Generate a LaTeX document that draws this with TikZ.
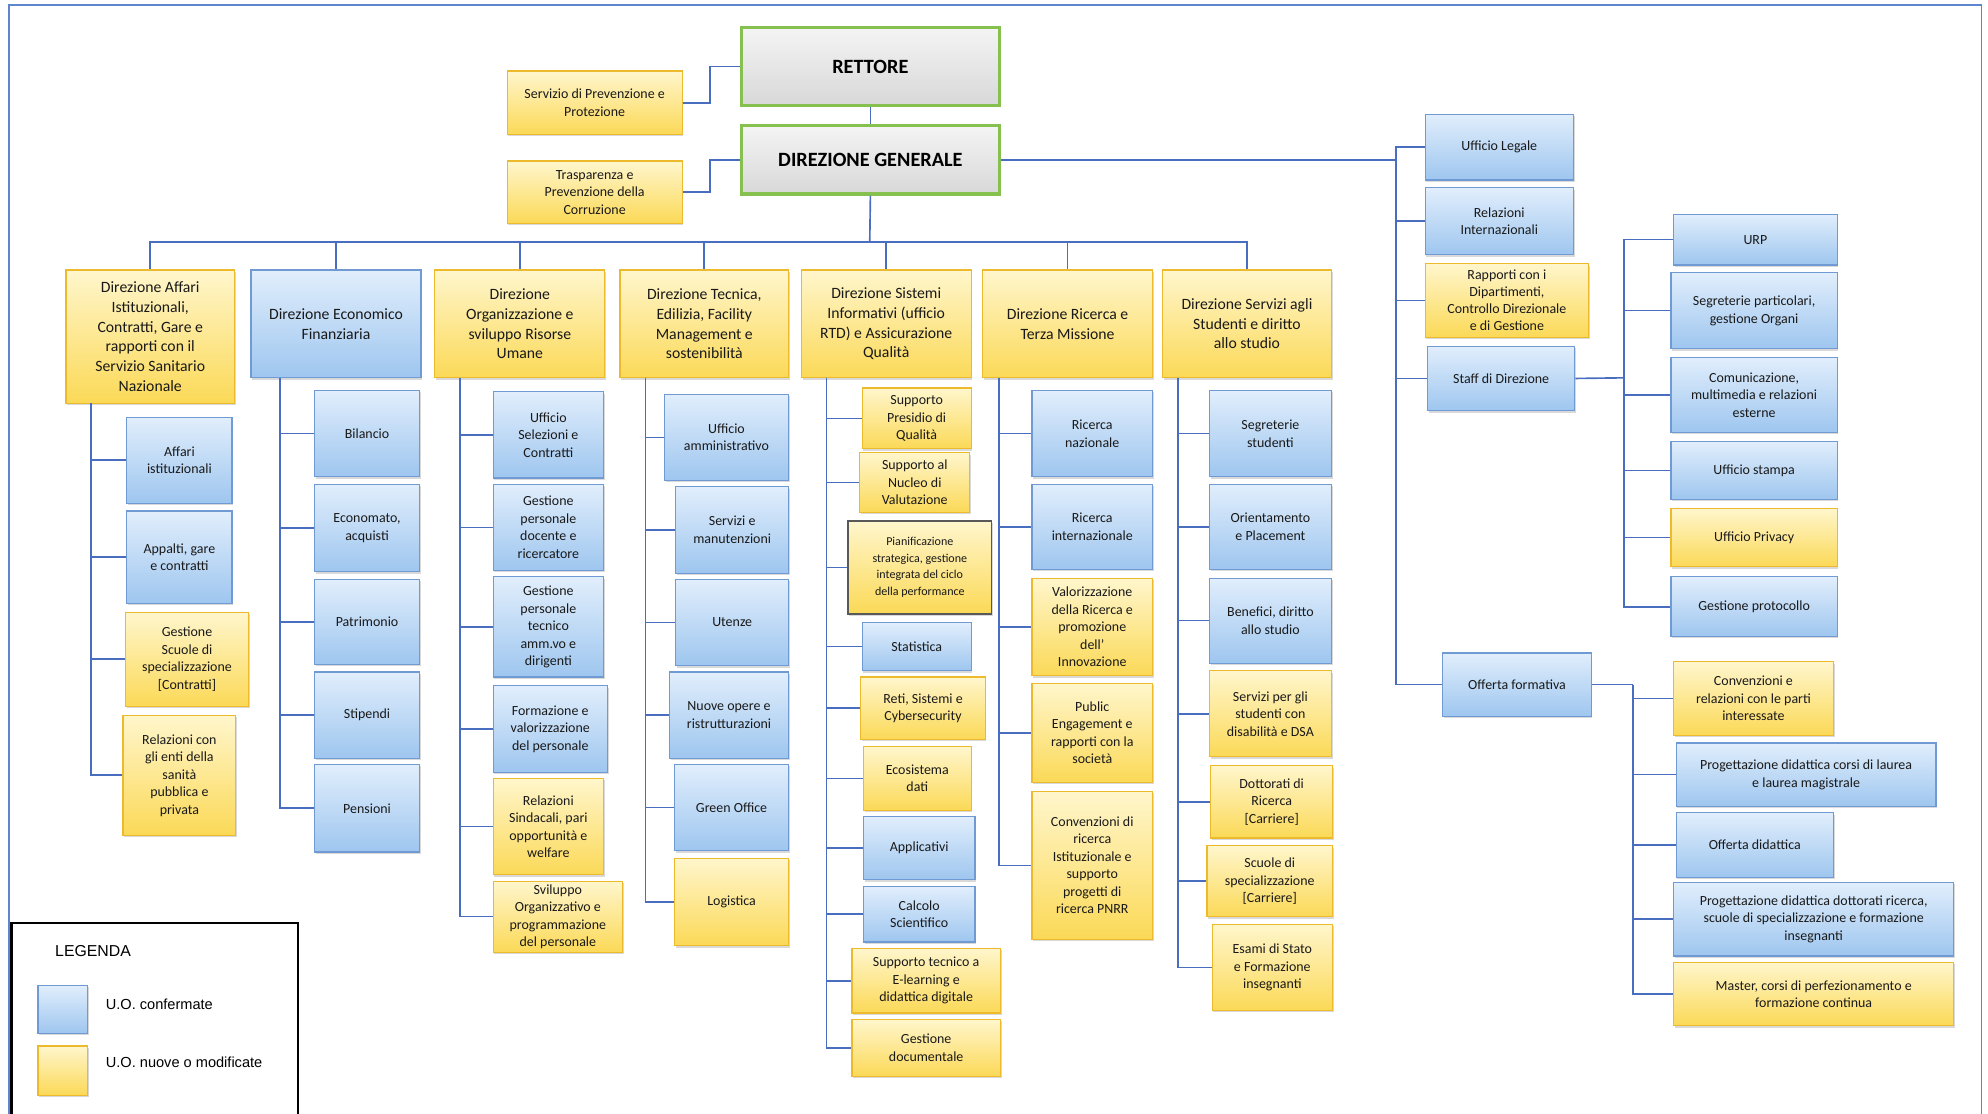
\documentclass[tikz,border=0pt]{standalone}
\usepackage{fontspec}
\setmainfont{Carlito}
\newfontfamily\legfont{Liberation Sans}
\usetikzlibrary{shadows}

\definecolor{blutop}{HTML}{E1EEFC}
\definecolor{blubot}{HTML}{9EC6EF}
\definecolor{bordoblu}{HTML}{6F9AD3}
\definecolor{giallotop}{HTML}{FFF6CC}
\definecolor{giallobot}{HTML}{FBD957}
\definecolor{bordogiallo}{HTML}{EDBA2E}
\definecolor{verde}{HTML}{86C04F}
\definecolor{grigiotop}{HTML}{F4F4F4}
\definecolor{grigiobot}{HTML}{D8D8D8}
\definecolor{linea}{HTML}{4A6EBF}
\definecolor{cornice}{HTML}{5E86CF}

\tikzset{
  uo/.style={rectangle, line width=0.9pt, align=center, inner sep=1pt, text=black!90,
    font=\fontsize{11}{13.8}\selectfont,
    drop shadow={opacity=0.3, shadow xshift=1pt, shadow yshift=-1.5pt}},
  blu/.style={uo, draw=bordoblu, top color=blutop, bottom color=blubot},
  gialla/.style={uo, draw=bordogiallo, top color=giallotop, bottom color=giallobot},
  dir/.style={font=\fontsize{12.4}{15.5}\selectfont},
  vertice/.style={rectangle, draw=verde, line width=2.5pt, top color=grigiotop, bottom color=grigiobot,
    font=\fontsize{16}{18}\bfseries\selectfont},
  conn/.style={draw=linea, line width=1.3pt},
}

% box from its corners: style, name, x1, y1, x2, y2, text
\newcommand{\ubox}[7]{%
  \pgfmathsetmacro\uow{#5-#3}%
  \pgfmathsetmacro\uoh{#6-#4}%
  \node[#1, minimum width=\uow pt, minimum height=\uoh pt] (#2) at ({(#3+#5)/2},{(#4+#6)/2}) {#7};}

\begin{document}
\begin{tikzpicture}[x=1pt, y=-1pt]
    \useasboundingbox (0,0) rectangle (1568,878);
    \draw[cornice, line width=1pt] (7,4) rectangle (1563,900);

    % vertici %
    \ubox{vertice}{rett}{585}{22}{788}{83}{RETTORE}
    \ubox{vertice}{dg}{585}{99}{788}{153}{DIREZIONE GENERALE}
    \ubox{gialla}{spp}{400}{56}{538}{106}{Servizio di Prevenzione e\\Protezione}
    \ubox{gialla}{tpc}{400}{127}{538}{176}{Trasparenza e\\Prevenzione della\\Corruzione}

    % direzioni %
    \ubox{gialla,dir}{dai}{52}{213}{185}{318}{Direzione Affari\\Istituzionali,\\Contratti, Gare e\\rapporti con il\\Servizio Sanitario\\Nazionale}
    \ubox{blu,dir}{def}{198}{213}{332}{298}{Direzione Economico\\Finanziaria}
    \ubox{gialla,dir}{dor}{343}{213}{477}{298}{Direzione\\Organizzazione e\\sviluppo Risorse\\Umane}
    \ubox{gialla,dir}{dte}{489}{213}{622}{298}{Direzione Tecnica,\\Edilizia, Facility\\Management e\\sostenibilità}
    \ubox{gialla,dir}{dsi}{632}{213}{766}{298}{Direzione Sistemi\\Informativi (ufficio\\RTD) e Assicurazione\\Qualità}
    \ubox{gialla,dir}{dri}{775}{213}{909}{298}{Direzione Ricerca e\\Terza Missione}
    \ubox{gialla,dir}{dss}{917}{213}{1050}{298}{Direzione Servizi agli\\Studenti e diritto\\allo studio}

    % affari istituzionali %
    \ubox{blu}{ais}{100}{329}{183}{397}{Affari\\istituzionali}
    \ubox{blu}{agc}{100}{403}{183}{476}{Appalti, gare\\e contratti}
    \ubox{gialla}{gss}{99}{483}{196}{557}{Gestione\\Scuole di\\specializzazione\\{[Contratti]}}
    \ubox{gialla}{res}{97}{564}{186}{659}{Relazioni con\\gli enti della\\sanità\\pubblica e\\privata}

    % economico finanziaria %
    \ubox{blu}{bil}{248}{308}{331}{376}{Bilancio}
    \ubox{blu}{eco}{248}{382}{331}{451}{Economato,\\acquisti}
    \ubox{blu}{pat}{248}{457}{331}{524}{Patrimonio}
    \ubox{blu}{sti}{248}{530}{331}{598}{Stipendi}
    \ubox{blu}{pen}{248}{603}{331}{672}{Pensioni}

    % risorse umane %
    \ubox{blu}{usc}{389}{309}{476}{377}{Ufficio\\Selezioni e\\Contratti}
    \ubox{blu}{gpd}{389}{382}{476}{450}{Gestione\\personale\\docente e\\ricercatore}
    \ubox{blu}{gpt}{389}{455}{476}{534}{Gestione\\personale\\tecnico\\amm.vo e\\dirigenti}
    \ubox{blu}{fvp}{389}{541}{479}{609}{Formazione e\\valorizzazione\\del personale}
    \ubox{gialla}{rsp}{389}{614}{476}{690}{Relazioni\\Sindacali, pari\\opportunità e\\welfare}
    \ubox{gialla}{sop}{389}{695}{491}{751}{Sviluppo\\Organizzativo e\\programmazione\\del personale}

    % tecnica %
    \ubox{blu}{uam}{524}{311}{622}{379}{Ufficio\\amministrativo}
    \ubox{blu}{sma}{533}{384}{622}{452}{Servizi e\\manutenzioni}
    \ubox{blu}{ute}{533}{457}{622}{525}{Utenze}
    \ubox{blu}{nor}{528}{530}{622}{598}{Nuove opere e\\ristrutturazioni}
    \ubox{blu}{gof}{532}{603}{622}{671}{Green Office}
    \ubox{gialla}{logi}{532}{677}{622}{746}{Logistica}

    % sistemi informativi %
    \ubox{gialla}{spq}{680}{306}{766}{354}{Supporto\\Presidio di\\Qualità}
    \ubox{gialla}{snv}{678}{357}{765}{404}{Supporto al\\Nucleo di\\Valutazione}
    \ubox{gialla,draw=black!65,line width=1.4pt,font=\fontsize{9.5}{13}\selectfont}{pia}{669}{411}{782}{484}{Pianificazione\\strategica, gestione\\integrata del ciclo\\della performance}
    \ubox{blu}{sta}{680}{491}{766}{529}{Statistica}
    \ubox{gialla}{rsc}{679}{534}{777}{583}{Reti, Sistemi e\\Cybersecurity}
    \ubox{gialla}{eda}{681}{589}{766}{639}{Ecosistema\\dati}
    \ubox{blu}{app}{681}{644}{769}{694}{Applicativi}
    \ubox{blu}{csc}{681}{699}{769}{743}{Calcolo\\Scientifico}
    \ubox{gialla}{ste}{672}{748}{789}{799}{Supporto tecnico a\\E-learning e\\didattica digitale}
    \ubox{gialla}{gdo}{672}{804}{789}{849}{Gestione\\documentale}

    % ricerca %
    \ubox{blu}{rna}{814}{308}{909}{376}{Ricerca\\nazionale}
    \ubox{blu}{rin}{814}{382}{909}{449}{Ricerca\\internazionale}
    \ubox{gialla}{vri}{814}{456}{909}{533}{Valorizzazione\\della Ricerca e\\promozione\\dell’\\Innovazione}
    \ubox{gialla}{pue}{814}{539}{909}{617}{Public\\Engagement e\\rapporti con la\\società}
    \ubox{gialla}{cri}{814}{624}{909}{741}{Convenzioni di\\ricerca\\Istituzionale e\\supporto\\progetti di\\ricerca PNRR}

    % servizi agli studenti %
    \ubox{blu}{sst}{954}{308}{1050}{376}{Segreterie\\studenti}
    \ubox{blu}{opl}{954}{382}{1050}{449}{Orientamento\\e Placement}
    \ubox{blu}{bds}{954}{456}{1050}{523}{Benefici, diritto\\allo studio}
    \ubox{gialla}{sdd}{954}{529}{1050}{597}{Servizi per gli\\studenti con\\disabilità e DSA}
    \ubox{gialla}{dor2}{955}{604}{1051}{661}{Dottorati di\\Ricerca\\{[Carriere]}}
    \ubox{gialla}{ssc}{952}{667}{1051}{723}{Scuole di\\specializzazione\\{[Carriere]}}
    \ubox{gialla}{esf}{956}{729}{1051}{797}{Esami di Stato\\e Formazione\\insegnanti}

    % staff della direzione generale %
    \ubox{blu}{ule}{1124}{90}{1241}{142}{Ufficio Legale}
    \ubox{blu}{rin2}{1124}{148}{1241}{201}{Relazioni\\Internazionali}
    \ubox{gialla,font=\fontsize{11}{13.4}\selectfont}{rdc}{1124}{208}{1253}{266}{Rapporti con i\\Dipartimenti,\\Controllo Direzionale\\e di Gestione}
    \ubox{blu}{sdi}{1126}{273}{1242}{324}{Staff di Direzione}
    \ubox{blu}{off}{1138}{515}{1255}{565}{Offerta formativa}

    \ubox{blu}{urp}{1320}{169}{1449}{209}{URP}
    \ubox{blu}{spo}{1318}{215}{1449}{275}{Segreterie particolari,\\gestione Organi}
    \ubox{blu}{cme}{1318}{282}{1449}{341}{Comunicazione,\\multimedia e relazioni\\esterne}
    \ubox{blu}{ust}{1318}{348}{1449}{394}{Ufficio stampa}
    \ubox{gialla}{upr}{1318}{401}{1449}{447}{Ufficio Privacy}
    \ubox{blu}{gpr}{1318}{455}{1449}{502}{Gestione protocollo}

    \ubox{gialla}{cpi}{1320}{522}{1446}{580}{Convenzioni e\\relazioni con le parti\\interessate}
    \ubox{blu}{pcl}{1322}{586}{1527}{636}{Progettazione didattica corsi di laurea\\e laurea magistrale}
    \ubox{blu}{odi}{1322}{641}{1446}{692}{Offerta didattica}
    \ubox{blu}{pdr}{1320}{696}{1541}{754}{Progettazione didattica dottorati ricerca,\\scuole di specializzazione e formazione\\insegnanti}
    \ubox{gialla}{mas}{1320}{759}{1541}{809}{Master, corsi di perfezionamento e\\formazione continua}

    % spine %
    \coordinate (bus) at (686,191);
    \coordinate (c1) at (72,318);
    \coordinate (c2) at (221,298);
    \coordinate (c3) at (363,298);
    \coordinate (c4) at (509,298);
    \coordinate (c5) at (652,298);
    \coordinate (c6) at (788,298);
    \coordinate (c7) at (929,298);
    \coordinate (cs) at (1101,126);
    \coordinate (cst) at (1281,298);
    \coordinate (cof) at (1288,540);

    % edges %
    \draw[conn] (rett) -- (dg);
    \draw[conn] (rett.west) -- ++(-24,0) |- (spp.east);
    \draw[conn] (dg.west) -- ++(-24,0) |- (tpc.east);
    \draw[conn] (dg.south) -- (bus);
    \foreach \d in {dai,def,dor,dte,dsi,dri,dss}
      \draw[conn] (bus) -| (\d.north);
    \foreach \n in {ais,agc,gss,res}
      \draw[conn] (c1) |- (\n.west);
    \foreach \n in {bil,eco,pat,sti,pen}
      \draw[conn] (c2) |- (\n.west);
    \foreach \n in {usc,gpd,gpt,fvp,rsp,sop}
      \draw[conn] (c3) |- (\n.west);
    \foreach \n in {uam,sma,ute,nor,gof,logi}
      \draw[conn] (c4) |- (\n.west);
    \foreach \n in {spq,snv,pia,sta,rsc,eda,app,csc,ste,gdo}
      \draw[conn] (c5) |- (\n.west);
    \foreach \n in {rna,rin,vri,pue,cri}
      \draw[conn] (c6) |- (\n.west);
    \foreach \n in {sst,opl,bds,sdd,dor2,ssc,esf}
      \draw[conn] (c7) |- (\n.west);
    \draw[conn] (dg.east) -- (cs);
    \foreach \n in {ule,rin2,rdc,sdi,off}
      \draw[conn] (cs) |- (\n.west);
    \draw[conn] (sdi.east) -- (cst);
    \foreach \n in {urp,spo,cme,ust,upr,gpr}
      \draw[conn] (cst) |- (\n.west);
    \draw[conn] (off.east) -- (cof);
    \foreach \n in {cpi,pcl,odi,pdr,mas}
      \draw[conn] (cof) |- (\n.west);

    % legenda %
    \draw[line width=2.2pt, fill=white] (9,728) rectangle (235,900);
    \node[anchor=west, font=\legfont\fontsize{12.5}{14}\selectfont] (leg) at (40,750) {LEGENDA};
    \ubox{blu}{lblu}{30}{777}{69}{815}{}
    \ubox{gialla}{lgia}{30}{825}{69}{864}{}
    \node[anchor=west, font=\legfont\fontsize{11.5}{14}\selectfont] (tblu) at (80,792) {U.O. confermate};
    \node[anchor=west, font=\legfont\fontsize{11.5}{14}\selectfont] (tgia) at (80,838) {U.O. nuove o modificate};
\end{tikzpicture}
\end{document}
